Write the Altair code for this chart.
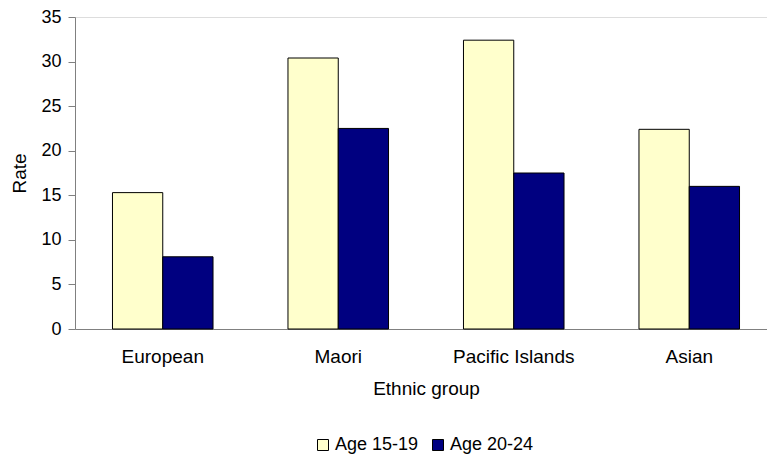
import altair as alt
import pandas as pd

# Rates by ethnic group for two age bands
groups = ["European", "Maori", "Pacific Islands", "Asian"]
age_15_19 = [15.3, 30.4, 32.4, 22.4]
age_20_24 = [8.1, 22.5, 17.5, 16.0]
series = ["Age 15-19", "Age 20-24"]
colors = ["#FFFFCC", "#000080"]
y_ticks = [0, 5, 10, 15, 20, 25, 30, 35]

rows = []
for g, a, b in zip(groups, age_15_19, age_20_24):
    rows.append({"group": g, "series": series[0], "rate": a})
    rows.append({"group": g, "series": series[1], "rate": b})
df = pd.DataFrame(rows)

FONT = "Liberation Sans"

bars = (
    alt.Chart(df)
    .mark_bar(stroke="black", strokeWidth=1)
    .encode(
        x=alt.X(
            "group:N",
            sort=groups,
            title="Ethnic group",
            scale=alt.Scale(range=[0, 702], paddingInner=0.427, paddingOuter=0.2135),
            axis=alt.Axis(
                labelAngle=0,
                ticks=False,
                domainColor="#808080",
                domainWidth=1,
                labelPadding=18,
                titlePadding=13,
                labelFontSize=19,
                titleFontSize=19,
                labelColor="black",
                titleColor="black",
                labelFont=FONT,
                titleFont=FONT,
                titleFontWeight="normal",
            ),
        ),
        xOffset=alt.XOffset("series:N", sort=series, scale=alt.Scale(paddingInner=0, paddingOuter=0)),
        y=alt.Y(
            "rate:Q",
            title="Rate",
            scale=alt.Scale(domain=[0, 35], nice=False),
            axis=alt.Axis(
                values=y_ticks,
                grid=False,
                tickSize=7,
                tickColor="#808080",
                domainColor="#808080",
                labelPadding=7,
                labelFontSize=18,
                titleFontSize=19,
                labelColor="black",
                titleColor="black",
                labelFont=FONT,
                titleFont=FONT,
                titleFontWeight="normal",
                titlePadding=11,
            ),
        ),
        fill=alt.Fill(
            "series:N",
            sort=series,
            scale=alt.Scale(domain=series, range=colors),
            legend=alt.Legend(
                title=None,
                orient="none",
                direction="horizontal",
                legendX=239,
                legendY=419,
                symbolType="square",
                symbolSize=121,
                symbolStrokeColor="black",
                symbolStrokeWidth=1,
                labelFontSize=18,
                labelFont=FONT,
                labelColor="black",
                labelOffset=3,
                columnPadding=10,
            ),
        ),
    )
)

chart = (
    bars.properties(
        width=692,
        height=312,
        autosize=alt.AutoSizeParams(type="none"),
        padding={"left": 75, "top": 17, "right": 0, "bottom": 125},
    )
    .configure_view(stroke=None)
    .configure(background="white")
)

chart.save("out.html", embed_options={"renderer": "svg", "actions": False})
